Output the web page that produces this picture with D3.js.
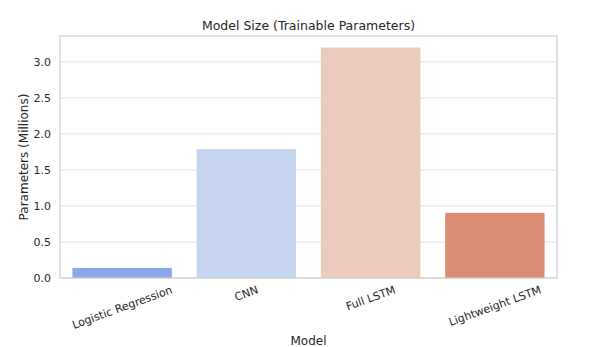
<!DOCTYPE html>
<html>
<head>
<meta charset="utf-8">
<script src="https://cdn.jsdelivr.net/npm/d3@7"></script>
<style>
  body { margin: 0; background: #fff; }
  text { font-family: "DejaVu Sans", sans-serif; fill: #262626; }
</style>
</head>
<body>
<svg id="chart" width="589" height="347"></svg>
<script>
// model names and sizes in millions of parameters
var models = ["Logistic Regression", "CNN", "Full LSTM", "Lightweight LSTM"];
var params = [0.14, 1.79, 3.2, 0.905];
var barColors = ["#8aa7ea", "#c6d5ef", "#eacbbc", "#dc8d75"];
var yTicks = [0, 0.5, 1.0, 1.5, 2.0, 2.5, 3.0];

(function() {
  var margin = { top: 36, right: 32, bottom: 69, left: 60 };
  var width = 589 - margin.left - margin.right,
      height = 347 - margin.top - margin.bottom;

  var svg = d3.select("#chart");
  var g = svg.append("g").attr("transform", "translate(" + margin.left + "," + margin.top + ")");

  var x = d3.scaleBand().domain(models).range([0, width]).paddingInner(0.2).paddingOuter(0.1);
  var y = d3.scaleLinear().domain([0, d3.max(params) * 1.05]).range([height, 0]);

  // grid
  g.selectAll(".grid").data(yTicks).enter().append("line")
    .attr("x1", 0).attr("x2", width)
    .attr("y1", function(d) { return y(d); }).attr("y2", function(d) { return y(d); })
    .attr("stroke", "#e3e3e3").attr("stroke-width", 1);

  g.selectAll(".bar").data(params).enter().append("rect")
    .attr("x", function(d, i) { return x(models[i]); })
    .attr("y", function(d) { return y(d); })
    .attr("width", x.bandwidth())
    .attr("height", function(d) { return height - y(d); })
    .attr("fill", function(d, i) { return barColors[i]; });

  // frame
  g.append("rect").attr("x", 0).attr("y", 0).attr("width", width).attr("height", height)
    .attr("fill", "none").attr("stroke", "#cfcfcf").attr("stroke-width", 1.2);

  var yAxis = g.append("g").call(d3.axisLeft(y).tickValues(yTicks).tickSize(0).tickPadding(9).tickFormat(d3.format(".1f")));
  yAxis.select(".domain").remove();
  yAxis.selectAll("text").style("font-size", "11px").attr("fill", "#262626");

  // rotated x tick labels, centered on tick like matplotlib
  models.forEach(function(m) {
    var cx = x(m) + x.bandwidth() / 2;
    var t = g.append("text").text(m).style("font-size", "11px")
      .attr("text-anchor", "middle").attr("dy", "0.35em");
    var w = t.node().getComputedTextLength(), h = 11;
    var a = 20 * Math.PI / 180;
    var bh = w * Math.sin(a) + h * Math.cos(a);
    var cy = height + 6 + bh / 2;
    t.attr("transform", "translate(" + cx + "," + cy + ") rotate(-20)");
  });

  svg.append("text").text("Model Size (Trainable Parameters)")
    .attr("x", margin.left + width / 2).attr("y", 30)
    .attr("text-anchor", "middle").style("font-size", "12.5px");

  svg.append("text").text("Model")
    .attr("x", margin.left + width / 2).attr("y", 345)
    .attr("text-anchor", "middle").style("font-size", "12px");

  svg.append("text").text("Parameters (Millions)")
    .attr("transform", "translate(28," + (margin.top + height / 2) + ") rotate(-90)")
    .attr("text-anchor", "middle").style("font-size", "12px");
})();
</script>
</body>
</html>
